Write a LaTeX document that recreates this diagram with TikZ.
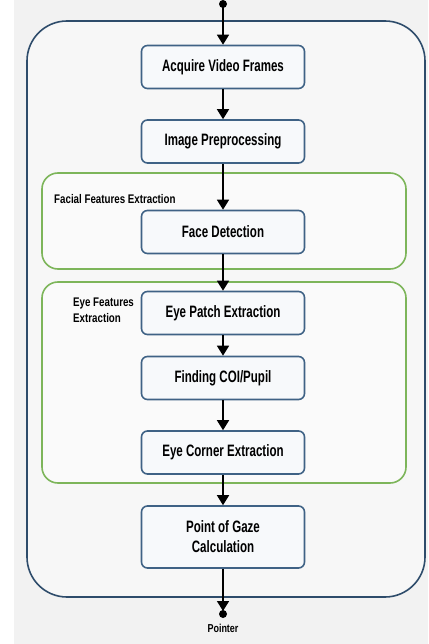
\documentclass[tikz,border=0pt]{standalone}
\usepackage{fontspec}
\setmainfont{Liberation Sans}[FakeStretch=0.7]
\newfontfamily\grouplabelfont{Liberation Sans}[FakeStretch=0.78]
\usepackage{tikz}
\usetikzlibrary{arrows.meta}
\usetikzlibrary{calc}

\definecolor{boxblue}{HTML}{3F6285}
\definecolor{outerblue}{HTML}{2E4C6B}
\definecolor{groupgreen}{HTML}{7DB55A}
\definecolor{boxfill}{HTML}{F7F9FB}

\begin{document}
\begin{tikzpicture}[x=1pt, y=-1pt,
        stepbox/.style={draw=boxblue, line width=1.6pt, rounded corners=6pt, fill=boxfill,
            minimum width=163pt, minimum height=43pt, align=center, inner sep=2pt,
            font=\fontsize{16.5}{20}\selectfont\bfseries},
        groupbox/.style={draw=groupgreen, line width=1.6pt, rounded corners=16pt,
            minimum width=364pt},
        grouplabel/.style={anchor=west, align=left, inner sep=0pt,
            font=\grouplabelfont\fontsize{12.5}{16}\selectfont\bfseries},
        flow/.style={-{Triangle[width=12pt,length=10pt]}, line width=1.6pt}]
        % background
        \useasboundingbox (0,0) rectangle (428,644);
        \fill[black!5] (14,0) rectangle (428,644);

        % whole system
        \node[draw=outerblue, line width=1.6pt, rounded corners=40pt, fill=black!3,
            minimum width=398pt, minimum height=576pt] (system) at (226,309) {};

        % groups
        \node[groupbox, minimum height=96pt, fill=black!2] (facial) at (224,221) {};
        \node[groupbox, minimum height=201pt, fill=black!2] (eye) at (224,382.5) {};
        \node[grouplabel] (faciallabel) at (54,199) {Facial Features Extraction};
        \node[grouplabel] (eyelabel) at (73,310) {Eye Features\\Extraction};

        % steps
        \node[stepbox] (acquire) at (223,67) {Acquire Video Frames};
        \node[stepbox] (preproc) at (223,141.5) {Image Preprocessing};
        \node[stepbox] (face) at (223,232) {Face Detection};
        \node[stepbox] (patch) at (223,313) {Eye Patch Extraction};
        \node[stepbox] (pupil) at (223,378) {Finding COI/Pupil};
        \node[stepbox] (corner) at (223,452.5) {Eye Corner Extraction};
        \node[stepbox, minimum height=62pt] (gaze) at (223,537) {Point of Gaze\\Calculation};

        % start and end
        \coordinate (start) at (223,4);
        \coordinate (stop) at (223,611);
        \fill (start) circle (4pt);
        \fill ($(stop)+(0,3)$) circle (4pt);
        \node[font=\grouplabelfont\fontsize{11.5}{14}\selectfont\bfseries] (pointer) at (223,628) {Pointer};

        % connectors
        \draw[flow] (start) -- (acquire.north);
        \draw[flow] (acquire) -- (preproc);
        \draw[flow] (preproc) -- (face);
        \draw[flow] (face) -- (patch);
        \draw[flow] (patch) -- (pupil);
        \draw[flow] (pupil) -- (corner);
        \draw[flow] (corner) -- (gaze);
        \draw[flow] (gaze) -- (stop);
    \end{tikzpicture}
\end{document}
